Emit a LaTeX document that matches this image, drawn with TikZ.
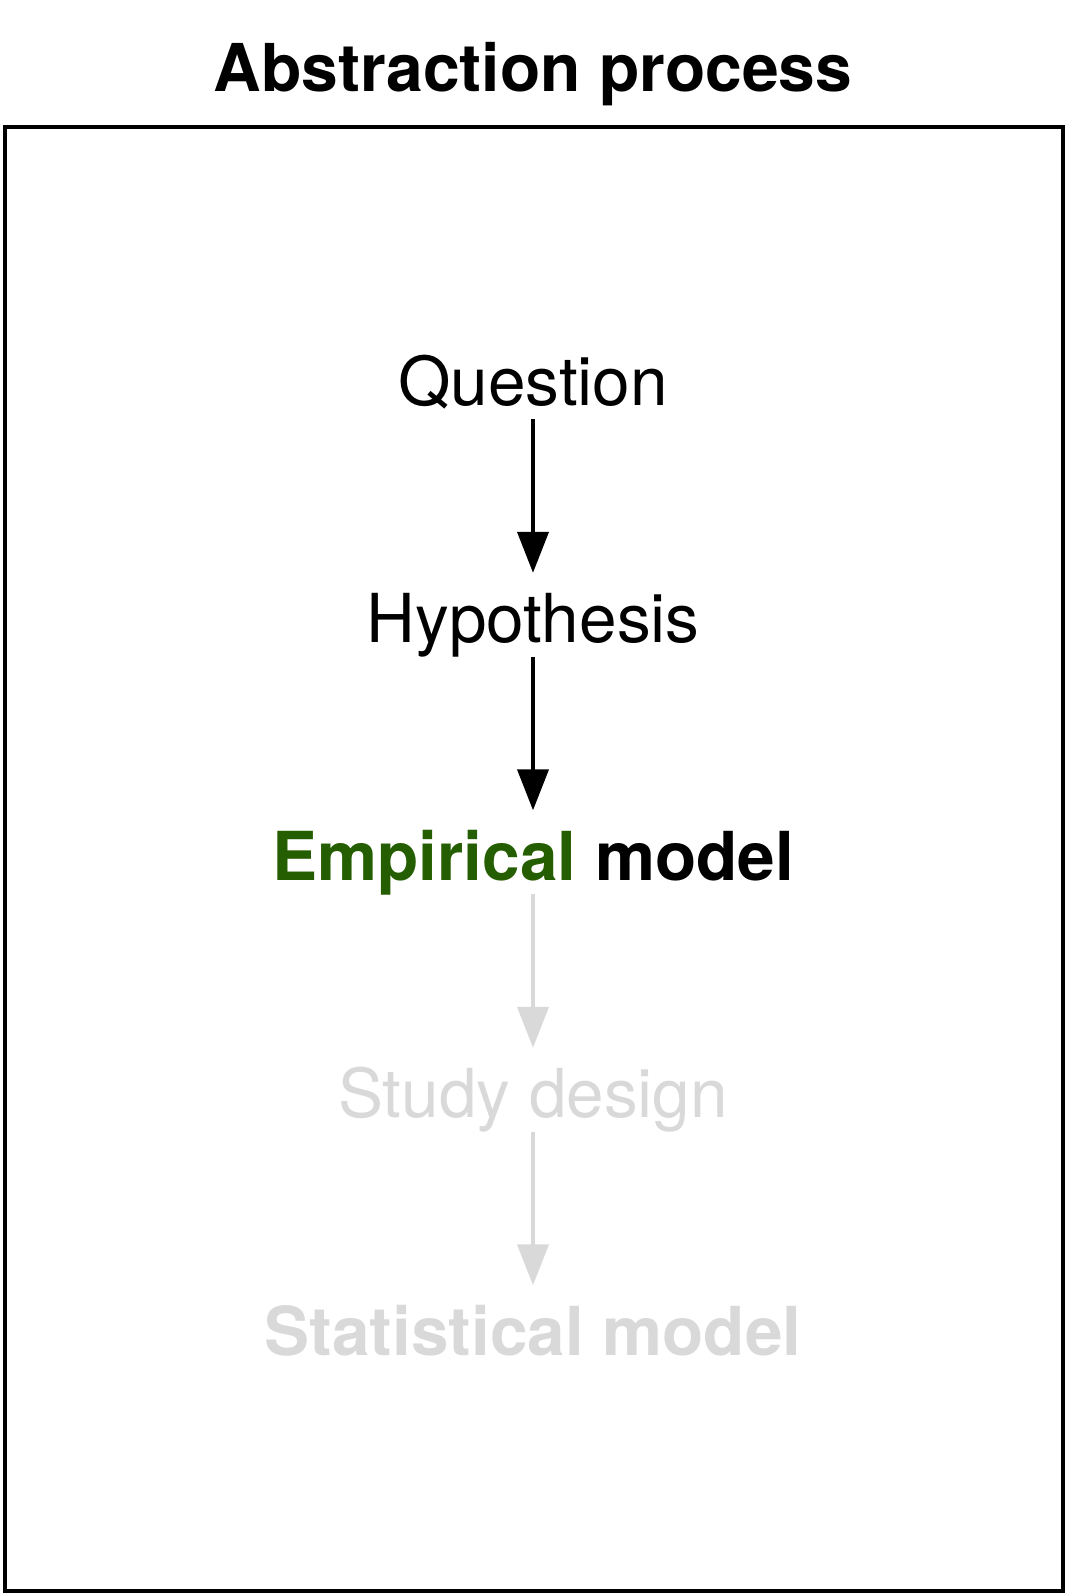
\documentclass[tikz,border=0pt]{standalone}
\usepackage{fontspec}
\setmainfont{TeX Gyre Heros}
\usetikzlibrary{arrows.meta}
\definecolor{empgreen}{HTML}{255E00}
\definecolor{fadegray}{HTML}{D9D9D9}
\tikzstyle{stage} = [inner sep=4pt, text height=65.5pt, text depth=10pt, font=\fontsize{67.5}{80}\selectfont]
\tikzstyle{faded} = [stage, text=fadegray]
\tikzstyle{arrow} = [line width=4pt, -{Triangle[width=31pt,length=41pt]}]
\tikzstyle{fadearrow} = [arrow, draw=fadegray]

\begin{document}
\begin{tikzpicture}[x=1pt, y=1pt, node distance=237.5pt]
    \useasboundingbox (0,0) rectangle (1066,-1595);
    % Frame and title
    \draw [line width=4pt] (4.5,-127) rectangle (1062.5,-1590.5);
    \node (title) [anchor=base, font=\bfseries\fontsize{66}{79}\selectfont] at (533,-92) {Abstraction process};

    % Nodes
    \node (question) [stage] at (533,-377.25) {Question};
    \node (hypothesis) [stage, below of=question] {Hypothesis};
    \node (empirical) [stage, below of=hypothesis] {\bfseries\textcolor{empgreen}{Empirical} model};
    \node (design) [faded, below of=empirical] {Study design};
    \node (statistical) [faded, below of=design] {\bfseries Statistical model};

    % Arrows
    \draw [arrow] (question) -- (hypothesis);
    \draw [arrow] (hypothesis) -- (empirical);
    \draw [fadearrow] (empirical) -- (design);
    \draw [fadearrow] (design) -- (statistical);
\end{tikzpicture}
\end{document}
